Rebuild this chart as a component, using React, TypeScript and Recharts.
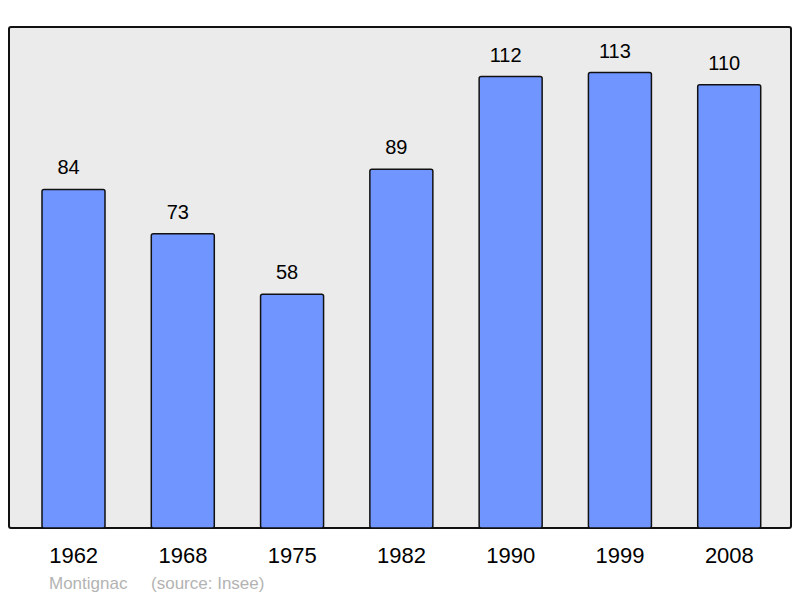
import React from 'react';
import { Bar, BarChart, LabelList, XAxis, YAxis } from 'recharts';

const years = ['1962', '1968', '1975', '1982', '1990', '1999', '2008'];
const population = [84, 73, 58, 89, 112, 113, 110];

const data = years.map((year, i) => ({ year, value: population[i] }));

const font = '"Liberation Sans", Arial, sans-serif';

export default function App() {
  return (
    <div style={{ position: 'absolute', left: 0, top: 0, width: 800, height: 598, background: '#fff', fontFamily: font }}>
      <div
        style={{
          position: 'absolute',
          left: 8,
          top: 26,
          width: 780,
          height: 499,
          border: '2px solid #111',
          borderRadius: 3,
          background: '#ebebeb',
        }}
      />
      <div style={{ position: 'absolute', left: 0, top: 0 }}>
        <BarChart width={800} height={598} data={data} margin={{ top: 27, right: 16, bottom: 40, left: 19 }}>
          <XAxis
            dataKey="year"
            height={30}
            axisLine={false}
            tickLine={false}
            tickMargin={13}
            tick={{ fill: '#000', fontSize: 22, fontFamily: font }}
          />
          <YAxis hide domain={[0, 124.3]} />
          <Bar dataKey="value" fill="#7095ff" stroke="#111" strokeWidth={1.5} barSize={63} radius={2} isAnimationActive={false}>
            <LabelList dataKey="value" position="top" offset={15} dx={-5} fill="#000" fontSize={20} fontFamily={font} />
          </Bar>
        </BarChart>
      </div>
      <div style={{ position: 'absolute', left: 49, top: 574, fontSize: 17, color: '#b3b3b3', whiteSpace: 'pre' }}>
        Montignac     (source: Insee)
      </div>
    </div>
  );
}
